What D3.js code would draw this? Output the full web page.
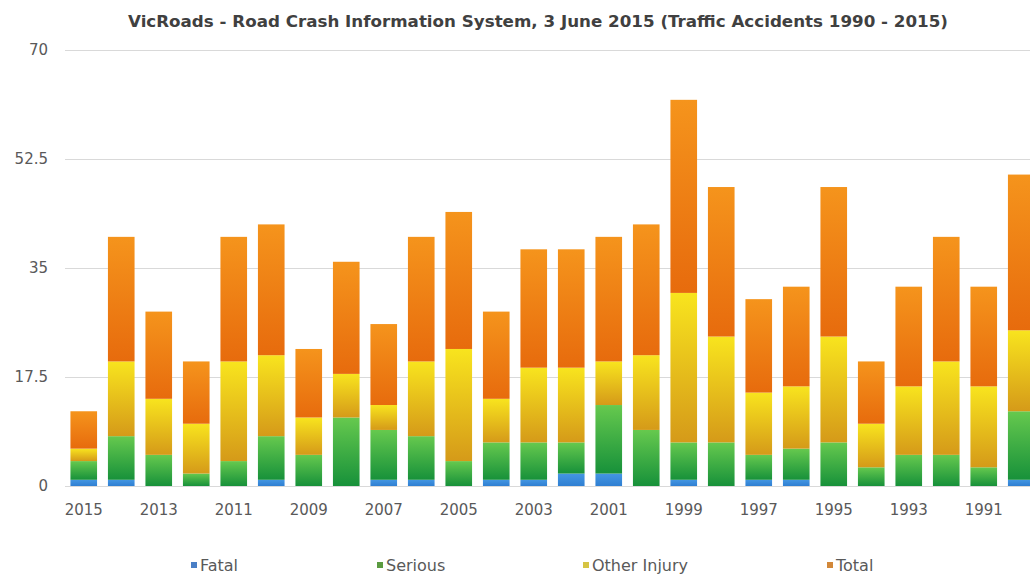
<!DOCTYPE html>
<html>
<head>
<meta charset="utf-8">
<script src="https://cdn.jsdelivr.net/npm/d3@7"></script>
<style>
  body { margin: 0; background: #fff; }
  svg { display: block; font-family: "DejaVu Sans", sans-serif; }
</style>
</head>
<body>
<div class="chart"></div>
<script>
// data (years run right to left, 2015 first)
var years = [2015, 2014, 2013, 2012, 2011, 2010, 2009, 2008, 2007, 2006, 2005, 2004, 2003,
             2002, 2001, 2000, 1999, 1998, 1997, 1996, 1995, 1994, 1993, 1992, 1991, 1990];
var fatal = [1, 1, 0, 0, 0, 1, 0, 0, 1, 1, 0, 1, 1, 2, 2, 0, 1, 0, 1, 1, 0, 0, 0, 0, 0, 1];
var serious = [3, 7, 5, 2, 4, 7, 5, 11, 8, 7, 4, 6, 6, 5, 11, 9, 6, 7, 4, 5, 7, 3, 5, 5, 3, 11];
var otherInjury = [2, 12, 9, 8, 16, 13, 6, 7, 4, 12, 18, 7, 12, 12, 7, 12, 24, 17, 10, 10, 17, 7, 11, 15, 13, 13];
var total = [6, 20, 14, 10, 20, 21, 11, 18, 13, 20, 22, 14, 19, 19, 20, 21, 31, 24, 15, 16, 24, 10, 16, 20, 16, 25];
var seriesNames = ["Fatal", "Serious", "Other Injury", "Total"];
var yTicks = [0, 17.5, 35, 52.5, 70];

var svgWidth = 1030;
var svgHeight = 574;

var margin = { top: 50, right: -10, bottom: 88, left: 65 };
var width = svgWidth - margin.left - margin.right;
var height = svgHeight - margin.top - margin.bottom;

var svg = d3.select(".chart")
  .append("svg")
  .attr("width", svgWidth)
  .attr("height", svgHeight);

// gradients per series (top -> bottom of each segment)
var grads = {
  "Fatal": ["#4496e2", "#2f7fd2"],
  "Serious": ["#66c94e", "#17913a"],
  "Other Injury": ["#f8e41e", "#d59a19"],
  "Total": ["#f5941c", "#e76b0d"]
};
var legendColors = {
  "Fatal": "#4a7fc6",
  "Serious": "#5b9b41",
  "Other Injury": "#d6c443",
  "Total": "#d2883a"
};

var defs = svg.append("defs");
seriesNames.forEach(function(name, i) {
  var g = defs.append("linearGradient")
    .attr("id", "grad" + i)
    .attr("x1", 0).attr("y1", 0).attr("x2", 0).attr("y2", 1);
  g.append("stop").attr("offset", "0%").attr("stop-color", grads[name][0]);
  g.append("stop").attr("offset", "100%").attr("stop-color", grads[name][1]);
});

var rows = years.map(function(y, i) {
  return { year: y, "Fatal": fatal[i], "Serious": serious[i], "Other Injury": otherInjury[i], "Total": total[i] };
});

var stacked = d3.stack().keys(seriesNames)(rows);

var xScale = d3.scaleBand()
  .domain(years)
  .range([0, width])
  .paddingInner(0.29)
  .paddingOuter(0.145);

var yScale = d3.scaleLinear()
  .domain([0, 70])
  .range([height, 0]);

var chartGroup = svg.append("g")
  .attr("transform", `translate(${margin.left}, ${margin.top})`);

// gridlines
chartGroup.append("g")
  .selectAll("line")
  .data(yTicks)
  .enter()
  .append("line")
  .attr("x1", 0)
  .attr("x2", width)
  .attr("y1", d => yScale(d) + 0.5)
  .attr("y2", d => yScale(d) + 0.5)
  .attr("stroke", "#d9d9d9")
  .attr("stroke-width", 1);

// y axis labels
var leftAxis = d3.axisLeft(yScale).tickValues(yTicks).tickSize(0).tickPadding(17)
  .tickFormat(d => d3.format("")(d));
var yAxis = chartGroup.append("g").call(leftAxis);
yAxis.select(".domain").remove();
yAxis.selectAll("text")
  .attr("fill", "#595959")
  .style("font-size", "15px")
  .style("font-family", "DejaVu Sans, sans-serif");

// bars
chartGroup.append("g")
  .selectAll("g")
  .data(stacked)
  .enter()
  .append("g")
  .attr("fill", (d, i) => `url(#grad${i})`)
  .selectAll("rect")
  .data(d => d)
  .enter()
  .append("rect")
  .attr("x", d => xScale(d.data.year))
  .attr("y", d => yScale(d[1]))
  .attr("width", xScale.bandwidth())
  .attr("height", d => yScale(d[0]) - yScale(d[1]));

// x axis labels (every other year)
var bottomAxis = d3.axisBottom(xScale)
  .tickValues(years.filter((d, i) => i % 2 === 0))
  .tickSize(0)
  .tickPadding(18);
var xAxis = chartGroup.append("g")
  .attr("transform", `translate(0, ${height})`)
  .call(bottomAxis);
xAxis.select(".domain").remove();
xAxis.selectAll("text")
  .attr("fill", "#595959")
  .style("font-size", "15px")
  .style("font-family", "DejaVu Sans, sans-serif");

// title
svg.append("text")
  .attr("x", 538)
  .attr("y", 27)
  .attr("text-anchor", "middle")
  .attr("fill", "#404040")
  .style("font-size", "15px")
  .style("font-weight", "bold")
  .attr("textLength", 820)
  .attr("lengthAdjust", "spacingAndGlyphs")
  .text("VicRoads - Road Crash Information System, 3 June 2015 (Traffic Accidents 1990 - 2015)");

// legend
var legendX = [191, 377, 583, 827];
var legend = svg.append("g");
seriesNames.forEach(function(name, i) {
  legend.append("rect")
    .attr("x", legendX[i])
    .attr("y", 562)
    .attr("width", 6)
    .attr("height", 6)
    .attr("fill", legendColors[name]);
  legend.append("text")
    .attr("x", legendX[i] + 9)
    .attr("y", 571)
    .attr("fill", "#595959")
    .style("font-size", "16px")
    .text(name);
});
</script>
</body>
</html>
